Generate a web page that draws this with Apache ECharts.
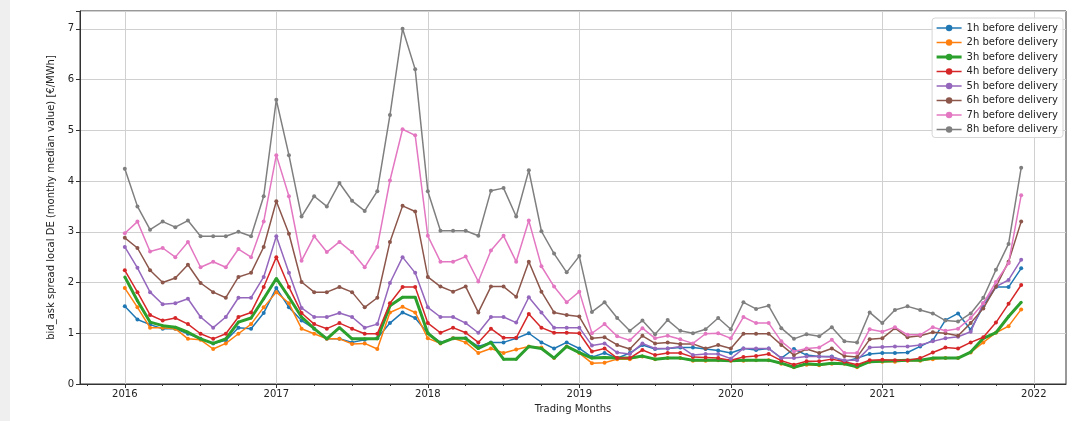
<!DOCTYPE html>
<html>
<head>
<meta charset="utf-8">
<script src="https://cdn.jsdelivr.net/npm/echarts@6/dist/echarts.min.js"></script>
<style>
    html, body { margin: 0; padding: 0; background: #efefef; }
    #chart { position: absolute; left: 10px; top: 0; width: 1066px; height: 421px; background: #fff; }
</style>
</head>
<body>
<div id="chart"></div>
<script>
// --- data: monthly median bid/ask spread, Jan 2016 .. Dec 2021 ---
const seriesNames = ['1h before delivery', '2h before delivery', '3h before delivery', '4h before delivery',
    '5h before delivery', '6h before delivery', '7h before delivery', '8h before delivery'];
const colors = ['#1f77b4', '#ff7f0e', '#2ca02c', '#d62728', '#9467bd', '#8c564b', '#e377c2', '#7f7f7f'];

const h1 = [1.53,1.27,1.17,1.09,1.09,0.99,0.89,0.80,0.86,1.11,1.09,1.40,
    1.89,1.51,1.25,1.09,0.89,0.89,0.82,0.87,0.90,1.20,1.41,1.30,
    1.00,0.82,0.90,0.90,0.74,0.82,0.82,0.90,1.00,0.82,0.70,0.82,
    0.70,0.53,0.61,0.51,0.61,0.77,0.69,0.70,0.72,0.72,0.69,0.66,
    0.61,0.70,0.67,0.70,0.51,0.69,0.57,0.54,0.54,0.44,0.51,0.59,
    0.61,0.61,0.62,0.74,0.86,1.26,1.39,1.07,1.53,1.91,1.91,2.28];
const h2 = [1.89,1.51,1.11,1.11,1.09,0.89,0.87,0.69,0.80,0.99,1.18,1.51,
    1.81,1.59,1.09,0.99,0.89,0.89,0.79,0.80,0.69,1.41,1.52,1.41,
    0.90,0.80,0.90,0.82,0.61,0.70,0.61,0.68,0.74,0.72,0.51,0.74,
    0.61,0.41,0.42,0.49,0.49,0.54,0.49,0.51,0.51,0.46,0.46,0.47,
    0.46,0.46,0.47,0.47,0.40,0.33,0.38,0.37,0.40,0.40,0.33,0.44,
    0.44,0.44,0.46,0.46,0.49,0.51,0.51,0.62,0.82,1.01,1.14,1.47];
const h3 = [2.11,1.64,1.22,1.15,1.12,1.02,0.89,0.80,0.89,1.22,1.30,1.68,
    2.08,1.71,1.32,1.09,0.89,1.11,0.89,0.89,0.89,1.54,1.71,1.71,
    1.00,0.80,0.90,0.90,0.70,0.82,0.49,0.49,0.74,0.70,0.51,0.74,
    0.62,0.51,0.52,0.51,0.51,0.55,0.49,0.51,0.51,0.47,0.47,0.47,
    0.46,0.47,0.47,0.47,0.41,0.33,0.40,0.38,0.41,0.40,0.34,0.44,
    0.45,0.46,0.47,0.47,0.51,0.51,0.51,0.63,0.90,1.01,1.33,1.61];
const h4 = [2.24,1.81,1.36,1.25,1.30,1.18,0.99,0.89,0.99,1.32,1.41,1.91,
    2.50,1.91,1.40,1.18,1.09,1.20,1.09,0.99,0.99,1.59,1.91,1.91,
    1.20,1.01,1.11,1.01,0.82,1.09,0.91,0.91,1.38,1.11,1.01,1.01,
    1.00,0.64,0.70,0.51,0.51,0.67,0.57,0.61,0.61,0.53,0.52,0.51,
    0.47,0.53,0.55,0.59,0.46,0.38,0.45,0.45,0.49,0.44,0.38,0.47,
    0.48,0.47,0.47,0.51,0.62,0.72,0.70,0.82,0.92,1.21,1.58,1.95];
const h5 = [2.70,2.29,1.81,1.57,1.59,1.68,1.32,1.11,1.32,1.70,1.70,2.11,
    2.91,2.19,1.50,1.32,1.32,1.40,1.32,1.11,1.18,1.99,2.50,2.19,
    1.51,1.32,1.32,1.20,1.01,1.32,1.32,1.21,1.71,1.41,1.11,1.11,
    1.11,0.76,0.80,0.62,0.59,0.80,0.70,0.70,0.74,0.57,0.59,0.59,
    0.50,0.70,0.70,0.70,0.51,0.51,0.54,0.54,0.53,0.47,0.47,0.72,
    0.73,0.74,0.74,0.77,0.84,0.90,0.93,1.03,1.59,1.92,2.05,2.45];
const h6 = [2.88,2.68,2.24,2.00,2.09,2.35,1.99,1.81,1.70,2.11,2.19,2.70,
    3.60,2.96,2.01,1.81,1.81,1.91,1.81,1.51,1.70,2.80,3.51,3.40,
    2.11,1.92,1.82,1.92,1.41,1.92,1.92,1.72,2.41,1.82,1.41,1.36,
    1.33,0.90,0.92,0.77,0.69,0.95,0.80,0.82,0.79,0.79,0.70,0.77,
    0.70,0.99,0.99,0.99,0.77,0.57,0.69,0.61,0.70,0.55,0.53,0.88,
    0.90,1.10,0.92,0.95,1.02,1.00,0.95,1.20,1.49,1.92,2.41,3.20];
const h7 = [2.97,3.20,2.61,2.68,2.50,2.80,2.30,2.41,2.30,2.66,2.50,3.20,
    4.51,3.70,2.43,2.91,2.60,2.80,2.60,2.30,2.70,4.01,5.02,4.90,
    2.92,2.41,2.41,2.51,2.02,2.63,2.92,2.41,3.22,2.32,1.92,1.61,
    1.82,1.00,1.18,0.94,0.86,1.10,0.90,0.95,0.88,0.80,0.99,1.00,
    0.90,1.32,1.20,1.20,0.84,0.64,0.70,0.72,0.87,0.61,0.61,1.08,
    1.03,1.12,0.97,0.97,1.12,1.05,1.09,1.30,1.59,2.01,2.38,3.72];
const h8 = [4.24,3.50,3.04,3.20,3.09,3.22,2.91,2.91,2.91,3.00,2.91,3.70,
    5.60,4.51,3.30,3.70,3.50,3.96,3.61,3.41,3.80,5.30,7.00,6.20,
    3.80,3.02,3.02,3.02,2.92,3.81,3.86,3.30,4.21,3.01,2.57,2.20,
    2.52,1.42,1.61,1.30,1.05,1.25,0.98,1.26,1.05,1.00,1.08,1.30,
    1.08,1.61,1.48,1.54,1.10,0.89,0.98,0.94,1.12,0.84,0.82,1.41,
    1.20,1.46,1.53,1.46,1.39,1.25,1.23,1.39,1.70,2.25,2.76,4.26];
const allSeries = [h1, h2, h3, h4, h5, h6, h7, h8];

// x axis in months since Jan 2016
const yearTicks = [0, 12, 24, 36, 48, 60, 72];
const yearLabels = ['2016', '2017', '2018', '2019', '2020', '2021', '2022'];
const quarterTicks = [-3, 3, 6, 9, 15, 18, 21, 27, 30, 33, 39, 42, 45, 51, 54, 57, 63, 66, 69];

const font = 'DejaVu Sans';
const chart = echarts.init(document.getElementById('chart'));

chart.setOption({
    animation: false,
    textStyle: { fontFamily: font },
    grid: {
        left: 70, right: 10, top: 11, bottom: 37,
        show: true, borderColor: '#333', borderWidth: 1
    },
    legend: {
        orient: 'vertical',
        right: 13, top: 18,
        padding: [5, 5, 3, 3],
        itemWidth: 25, itemHeight: 8, itemGap: 4.5,
        backgroundColor: 'rgba(255,255,255,0.85)',
        borderColor: '#d6d6d6', borderWidth: 1, borderRadius: 3,
        textStyle: { fontSize: 10, color: '#222', fontFamily: font },
        data: seriesNames.map((n, i) => ({ name: n, lineStyle: { width: i === 2 ? 3 : 1.5 } }))
    },
    xAxis: [{
        type: 'value',
        min: -3.55, max: 74.55,
        name: 'Trading Months',
        nameLocation: 'middle', nameGap: 20,
        nameTextStyle: { fontSize: 10, color: '#222' },
        axisLine: { show: true, onZero: false, lineStyle: { color: '#333' } },
        axisTick: { show: true, length: 4, customValues: yearTicks, lineStyle: { color: '#333' } },
        axisLabel: {
            customValues: yearTicks, fontSize: 10, color: '#222', margin: 5,
            formatter: v => yearLabels[yearTicks.indexOf(Math.round(v))] || ''
        },
        splitLine: { show: true, lineStyle: { color: '#d0d0d0', width: 1 } }
    }, {
        type: 'value',
        min: -3.55, max: 74.55,
        position: 'bottom',
        axisLine: { show: false, onZero: false },
        axisTick: { show: true, length: 2, customValues: quarterTicks, lineStyle: { color: '#333' } },
        axisLabel: { show: false },
        splitLine: { show: false }
    }],
    yAxis: {
        type: 'value',
        min: 0, max: 7.35, interval: 1,
        name: 'bid_ask spread local DE (monthy median value) [€/MWh]',
        nameLocation: 'middle', nameGap: 18,
        nameTextStyle: { fontSize: 10, color: '#222' },
        axisLine: { show: true, onZero: false, lineStyle: { color: '#333' } },
        axisTick: { show: true, length: 4, lineStyle: { color: '#333' } },
        axisLabel: {
            fontSize: 10, color: '#222', margin: 6,
            formatter: v => Number.isInteger(v) ? String(v) : ''
        },
        splitLine: { show: true, lineStyle: { color: '#d0d0d0', width: 1 } }
    },
    series: allSeries.map((vals, i) => ({
        name: seriesNames[i],
        type: 'line',
        xAxisIndex: 0,
        data: vals.map((v, m) => [m, v]),
        symbol: 'circle',
        symbolSize: i === 2 ? 3 : 4,
        showSymbol: true,
        color: colors[i],
        lineStyle: { width: i === 2 ? 3 : 1.5, color: colors[i] },
        itemStyle: { color: colors[i] },
        emphasis: { disabled: true },
        z: 2 + i
    }))
});
</script>
</body>
</html>
